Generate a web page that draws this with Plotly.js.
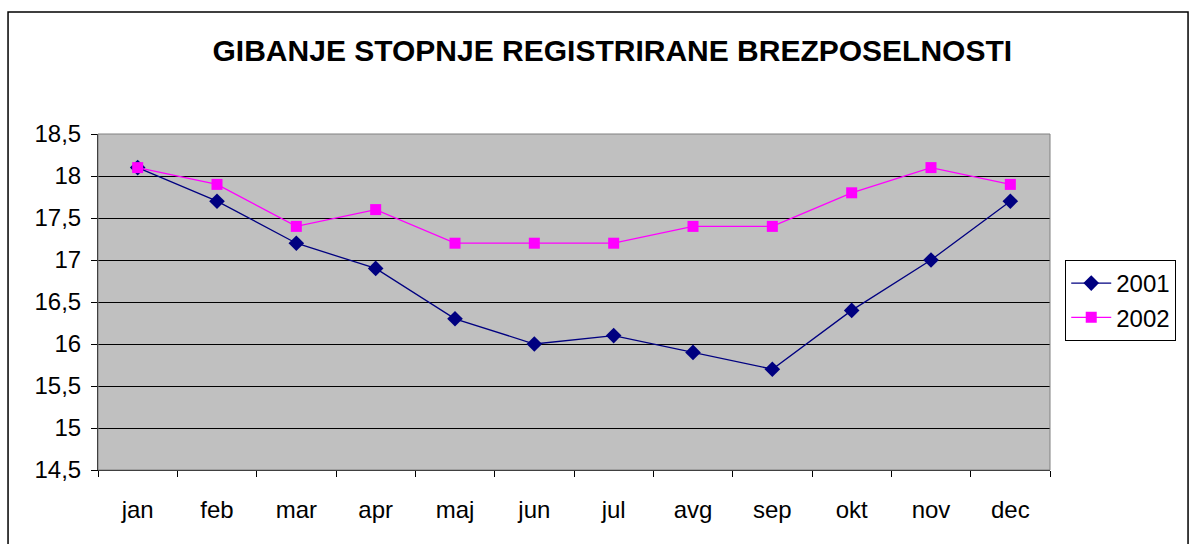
<!DOCTYPE html>
<html>
<head>
<meta charset="utf-8">
<script src="https://cdn.plot.ly/plotly-3.0.1.min.js"></script>
<style>html,body{margin:0;padding:0;background:#fff;}#chart{width:1189px;height:544px;}</style>
</head>
<body>
<div id="chart"></div>
<script>
const months = ["jan","feb","mar","apr","maj","jun","jul","avg","sep","okt","nov","dec"];
const y2001 = [18.1,17.7,17.2,16.9,16.3,16.0,16.1,15.9,15.7,16.4,17.0,17.7];
const y2002 = [18.1,17.9,17.4,17.6,17.2,17.2,17.2,17.4,17.4,17.8,18.1,17.9];
const seriesNames = ["2001","2002"];
const titleText = "GIBANJE STOPNJE REGISTRIRANE BREZPOSELNOSTI";

const font = "Arial, 'Liberation Sans', sans-serif";
const traces = [
  {x: months, y: y2001, name: seriesNames[0], type: "scatter", mode: "lines+markers",
   line: {color: "#000080", width: 1.3},
   marker: {symbol: "diamond", size: 12, color: "#000080"}},
  {x: months, y: y2002, name: seriesNames[1], type: "scatter", mode: "lines+markers",
   line: {color: "#ff00ff", width: 1.3},
   marker: {symbol: "square", size: 11, color: "#ff00ff"}}
];
const layout = {
  width: 1189, height: 544,
  margin: {l: 98, r: 139, t: 134, b: 74},
  paper_bgcolor: "#ffffff",
  plot_bgcolor: "#c0c0c0",
  separators: ",.",
  font: {family: font, size: 24, color: "#000"},
  title: {text: "<b>" + titleText + "</b>", font: {family: font, size: 30, color: "#000"},
          x: 0.515, xanchor: "center", y: 0.908, yanchor: "middle"},
  xaxis: {type: "category", range: [-0.5, 11.5], tickson: "boundaries", ticks: "outside", ticklen: 6,
          tickcolor: "#000", showgrid: false, showline: true, linecolor: "#000", linewidth: 1,
          ticklabelstandoff: 18, tickfont: {size: 24}, fixedrange: true},
  yaxis: {range: [14.5, 18.5], dtick: 0.5, tick0: 14.5, ticks: "outside", ticklen: 6,
          tickcolor: "#000", showgrid: true, gridcolor: "#000", gridwidth: 1,
          showline: true, linecolor: "#000", linewidth: 1, zeroline: false,
          ticklabelstandoff: 5, tickfont: {size: 24}, fixedrange: true},
  showlegend: true,
  legend: {x: 1.016, xanchor: "left", y: 0.625, yanchor: "top",
           bgcolor: "#fff", bordercolor: "#000", borderwidth: 1,
           font: {size: 24}, tracegroupgap: 0, itemwidth: 40},
  shapes: [
    {type: "rect", xref: "paper", yref: "paper", x0: 0, x1: 1, y0: 0, y1: 1,
     line: {color: "#808080", width: 1}, layer: "above"},
    {type: "rect", xref: "paper", yref: "paper", x0: -0.0945, x1: 1.145, y0: -0.25, y1: 1.363,
     line: {color: "#000", width: 1.5}, layer: "below"}
  ]
};
Plotly.newPlot("chart", traces, layout, {displayModeBar: false, staticPlot: true});
</script>
</body>
</html>
